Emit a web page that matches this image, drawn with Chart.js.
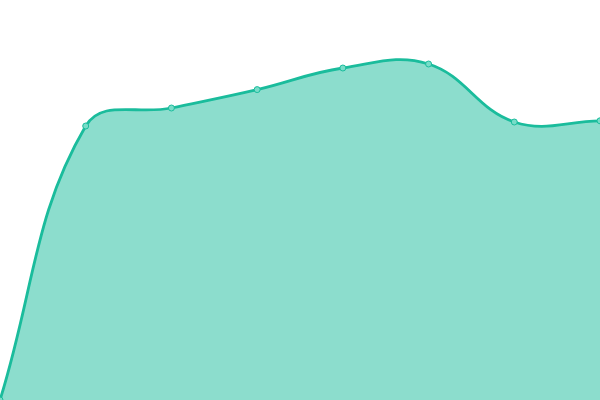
<!DOCTYPE html>
<html>
<head>
<meta charset="utf-8">
<script src="https://cdn.jsdelivr.net/npm/chart.js@4"></script>
<style>
  html, body { margin: 0; padding: 0; background: #fff; }
  #wrap { width: 600px; height: 400px; }
</style>
</head>
<body>
<div id="wrap"><canvas id="chart"></canvas></div>
<script>
// values (y scale 0..100)
const labels = ['1', '2', '3', '4', '5', '6', '7', '8'];
const values = [0, 68.5, 73, 77.6, 83, 84, 69.5, 69.8];

new Chart(document.getElementById('chart'), {
    type: 'line',
    data: {
        labels: labels,
        datasets: [{
            data: values,
            borderColor: 'rgb(26, 188, 156)',
            backgroundColor: 'rgba(26, 188, 156, 0.5)',
            pointBackgroundColor: 'rgba(120, 220, 200, 1)',
            pointBorderColor: 'rgb(26, 188, 156)',
            pointRadius: 3,
            pointBorderWidth: 1,
            borderWidth: 2.8,
            fill: true,
            tension: 0.4
        }]
    },
    options: {
        responsive: true,
        maintainAspectRatio: false,
        animation: false,
        layout: { padding: 0, autoPadding: false },
        plugins: {
            legend: { display: false },
            tooltip: { enabled: false }
        },
        scales: {
            x: { display: false },
            y: { display: false, min: 0, max: 100 }
        }
    }
});
</script>
</body>
</html>
